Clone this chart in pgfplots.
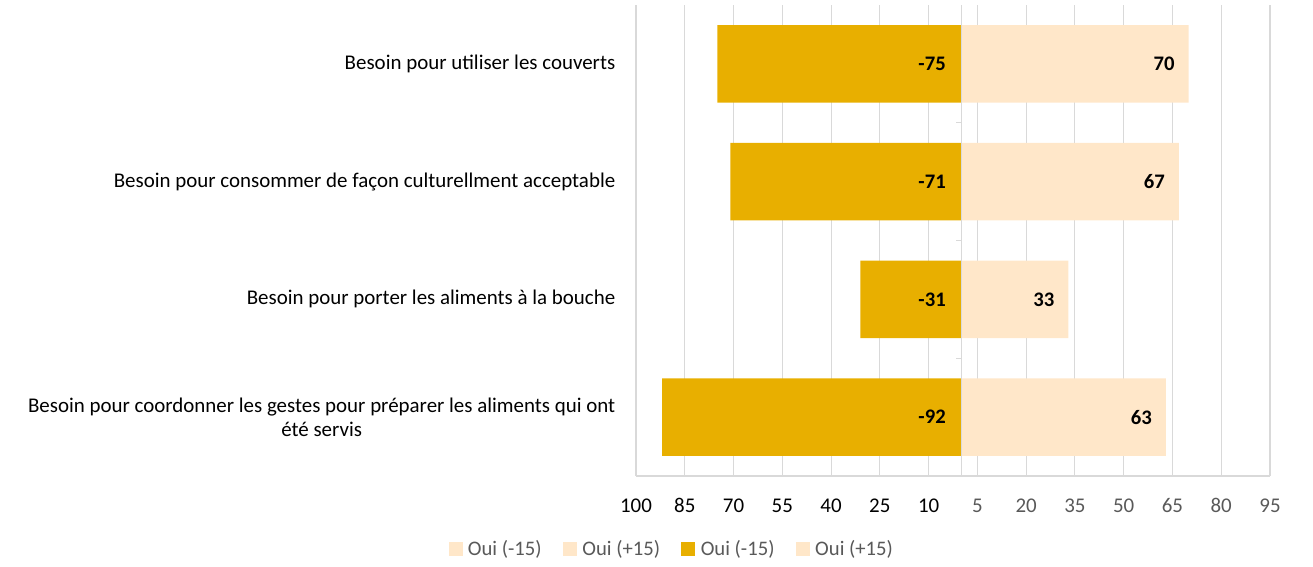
\documentclass[border=0pt]{standalone}
\usepackage{pgfplots}
\usepackage{pgfplotstable}
\usepackage{fontspec}
\setmainfont{Carlito}
\pgfplotsset{compat=1.18}
\definecolor{gold}{HTML}{E8AF00}
\definecolor{peach}{HTML}{FFE7C9}
\definecolor{gridgray}{HTML}{D9D9D9}
\definecolor{txtgray}{HTML}{595959}

\pgfplotstableread{
y neg pos
0 -75 70
1 -71 67
2 -31 33
3 -92 63
}\besoin

\begin{document}
\begin{tikzpicture}
\path[use as bounding box] (-477pt,-68.25pt) rectangle (507.75pt,357pt);
\begin{axis}[
    at={(0,0)}, anchor=south west,
    scale only axis,
    width=475.5pt, height=353.25pt,
    xmin=-100, xmax=95,
    ymin=-0.5, ymax=3.5,
    y dir=reverse,
    font=\fontsize{15.7}{18}\selectfont,
    /pgf/number format/assume math mode=true,
    axis line style={draw=none},
    major tick length=0pt,
    xtick={-100,-85,-70,-55,-40,-25,-10,5,20,35,50,65,80,95},
    xticklabels={100,85,70,55,40,25,10,
      {\color{txtgray}5},{\color{txtgray}20},{\color{txtgray}35},{\color{txtgray}50},
      {\color{txtgray}65},{\color{txtgray}80},{\color{txtgray}95}},
    xticklabel style={anchor=base, yshift=-27pt},
    xmajorgrids,
    grid style={gridgray, line width=0.8pt},
    ytick={0,1,2,3},
    yticklabels={Besoin pour utiliser les couverts,
      Besoin pour consommer de façon culturellment acceptable,
      Besoin pour porter les aliments à la bouche,
      {Besoin pour coordonner les gestes pour préparer les aliments qui ont\\été servis}},
    yticklabel style={align=center, xshift=-12pt, text=black},
    legend columns=4,
    legend style={draw=none, at={(0.057,-0.155)}, anchor=center,
      font=\fontsize{15.5}{18}\selectfont, text=txtgray,
      /tikz/every odd column/.append style={column sep=2pt},
      /tikz/every even column/.append style={column sep=14pt}},
    legend image code/.code={\fill[#1, draw=none] (0pt,-5pt) rectangle (10.5pt,5pt);},
]
\addlegendimage{fill=peach}
\addlegendentry{Oui (-15)}
\addlegendimage{fill=peach}
\addlegendentry{Oui (+15)}
\addplot[xbar, bar width=0.66, bar shift=0pt, fill=gold, draw=none]
  table[x=neg, y=y] {\besoin};
\addlegendentry{Oui (-15)}
\addplot[xbar, bar width=0.66, bar shift=0pt, fill=peach, draw=none,
  nodes near coords,
  nodes near coords style={anchor=east, xshift=-7pt, text=black,
    font=\fontsize{15.5}{18}\selectfont\bfseries}]
  table[x=pos, y=y] {\besoin};
\addlegendentry{Oui (+15)}
\addplot[draw=none, mark=none, forget plot,
  nodes near coords, point meta=explicit,
  nodes near coords style={anchor=east, xshift=-8pt, text=black,
    font=\fontsize{15.5}{18}\selectfont\bfseries}]
  table[x expr=0, y=y, meta=neg] {\besoin};
\draw[gridgray, line width=0.8pt] (axis cs:-100,3.5) -- (axis cs:95,3.5);
\draw[gridgray, line width=0.8pt] (axis cs:0,-0.5) -- (axis cs:0,3.5);
\draw[gridgray, line width=0.8pt] (axis cs:0,0.5) -- ([xshift=-3.5pt]axis cs:0,0.5);
\draw[gridgray, line width=0.8pt] (axis cs:0,1.5) -- ([xshift=-3.5pt]axis cs:0,1.5);
\draw[gridgray, line width=0.8pt] (axis cs:0,2.5) -- ([xshift=-3.5pt]axis cs:0,2.5);
\end{axis}
\end{tikzpicture}
\end{document}
